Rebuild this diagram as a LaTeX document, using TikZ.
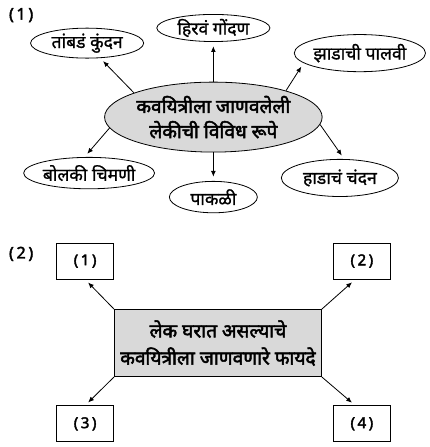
\documentclass[tikz,border=0pt]{standalone}
\usepackage{fontspec}
\setmainfont[Script=Devanagari, FakeBold=1]{Noto Sans}
\newfontfamily\heavy[Script=Devanagari, FakeBold=2.5]{Noto Sans}
\usetikzlibrary{arrows.meta,shapes.geometric}

\begin{document}
\begin{tikzpicture}[
    line width=0.8pt,
    bubble/.style={draw, ellipse, inner sep=0pt, minimum height=1.1cm, font=\fontsize{17.5}{20}\selectfont},
    hub/.style={draw, ellipse, fill=black!15, inner sep=0pt, align=center, font=\heavy\fontsize{19}{25}\selectfont},
    hubbox/.style={draw, fill=black!15, minimum width=7.25cm, minimum height=2.35cm, align=center, font=\heavy\fontsize{19}{27}\selectfont},
    blank/.style={draw, minimum width=2cm, minimum height=1.26cm, font=\heavy\fontsize{15}{18}\selectfont},
    part/.style={font=\heavy\fontsize{16}{19}\selectfont},
    arr/.style={-{Latex[length=2mm, width=1.7mm]}, shorten >=1.5mm}
  ]
    \useasboundingbox (0,0) rectangle (15.05,-15.65);

    \node[part] (p1) at (0.74,-0.53) {(\,1\,)};
    \node[hub, minimum width=7.56cm, minimum height=2.45cm] (rupe) at (7.47,-4.1) {कवयित्रीला जाणवलेली\\लेकीची विविध रूपे};

    \node[bubble, minimum width=3.96cm, minimum height=0.95cm] (hirav) at (7.47,-0.98) {हिरवं गोंदण};
    \node[bubble, minimum width=3.96cm, minimum height=1.05cm] (tambad) at (3.05,-1.51) {तांबडं कुंदन};
    \node[bubble, minimum width=4.24cm, minimum height=1.3cm] (palavi) at (12.6,-1.86) {झाडाची पालवी};
    \node[bubble, minimum width=4.2cm] (chimani) at (3.12,-6.06) {बोलकी चिमणी};
    \node[bubble, minimum width=3.08cm] (pakali) at (7.47,-6.9) {पाकळी};
    \node[bubble, minimum width=4.1cm, minimum height=1.3cm] (chandan) at (11.9,-6.23) {हाडाचं चंदन};

    \draw[arr] (rupe) -- (hirav);
    \draw[arr] (rupe.163) -- (tambad.-49);
    \draw[arr] (rupe.20) -- (palavi.190);
    \draw[arr] (rupe.186) -- (chimani.106);
    \draw[arr] (rupe) -- (pakali);
    \draw[arr] (rupe.-4) -- (chandan.77);

    \node[part] (p2) at (0.74,-8.89) {(\,2\,)};
    \node[hubbox] (fayade) at (7.63,-12.01) {लेक घरात असल्याचे\\कवयित्रीला जाणवणारे फायदे};

    \node[blank] (b1) at (2.98,-9.14) {(\,1\,)};
    \node[blank] (b2) at (12.67,-9.14) {(\,2\,)};
    \node[blank] (b3) at (2.98,-14.84) {(\,3\,)};
    \node[blank] (b4) at (12.67,-14.84) {(\,4\,)};

    \draw[arr] (fayade.north west) -- (b1.south);
    \draw[arr] (fayade.north east) -- (b2.250);
    \draw[arr] (fayade.south west) -- (b3.north);
    \draw[arr] (fayade.south east) -- (b4.110);
  \end{tikzpicture}
\end{document}
